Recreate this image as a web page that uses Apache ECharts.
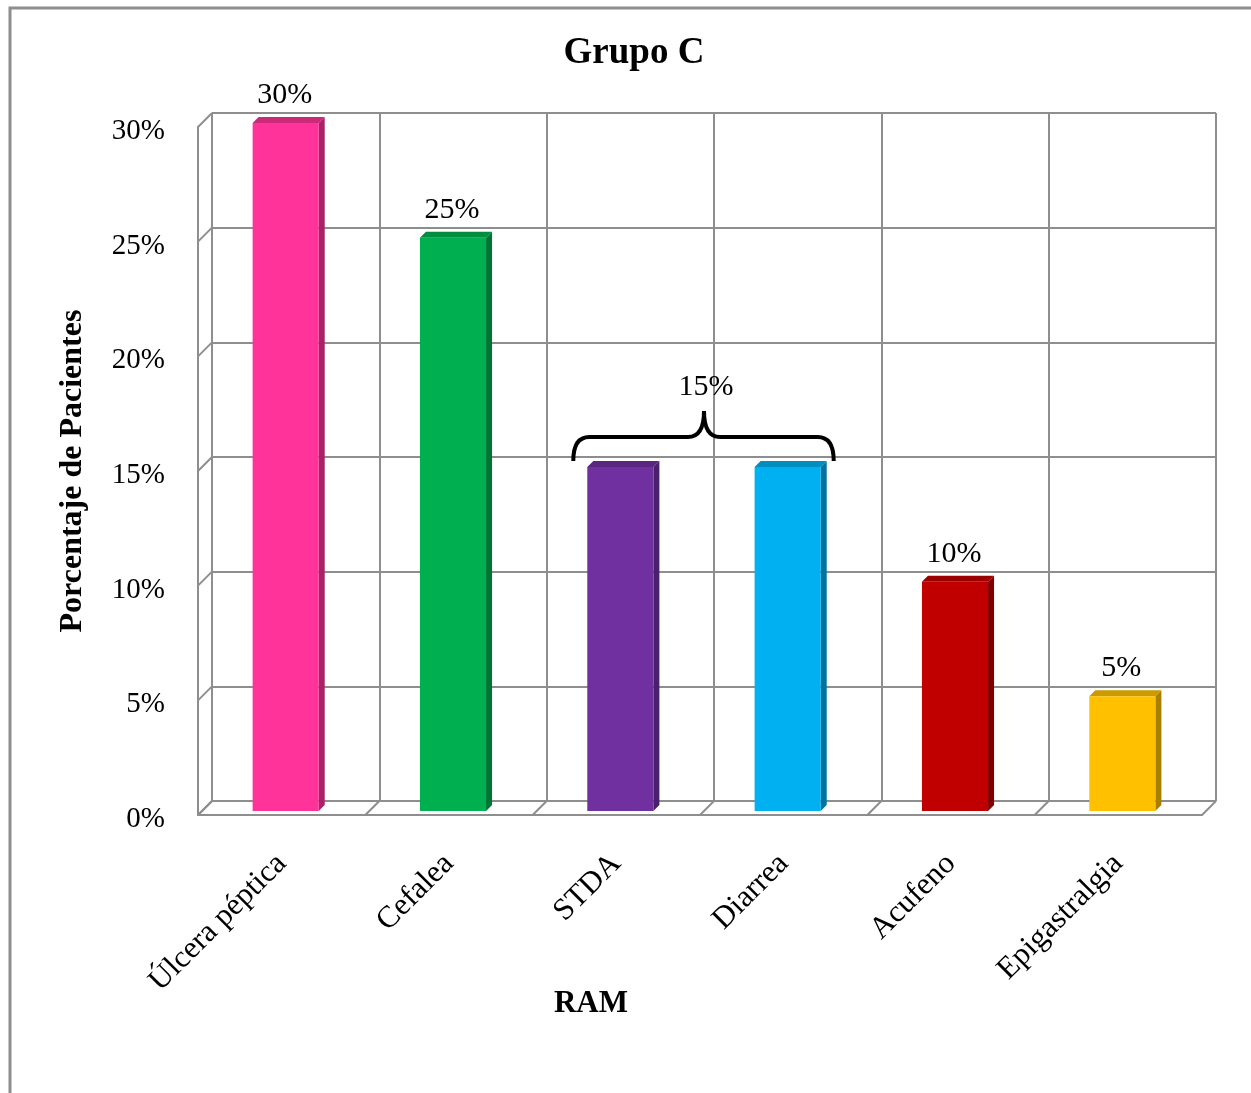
<!DOCTYPE html>
<html>
<head>
<meta charset="utf-8">
<title>Grupo C</title>
<script src="https://cdn.jsdelivr.net/npm/echarts@6/dist/echarts.min.js"></script>
<style>
  html, body { margin: 0; padding: 0; background: #fff; }
  #chart { width: 1251px; height: 1093px; }
</style>
</head>
<body>
<div id="chart"></div>
<script>
const categories = ['Úlcera péptica', 'Cefalea', 'STDA', 'Diarrea', 'Acufeno', 'Epigastralgia'];
const percentages = [0.30, 0.25, 0.15, 0.15, 0.10, 0.05];
const barColors = ['#FF3399', '#00B050', '#7030A0', '#00B0F0', '#C00000', '#FFC000'];
const yTicks = [0, 0.05, 0.10, 0.15, 0.20, 0.25, 0.30];
// STDA and Diarrea share one label, drawn above a brace
const bracedCategories = [2, 3];
const bracedValue = 0.15;

const SERIF = "'Liberation Serif', 'Times New Roman', serif";
const GRID_COLOR = '#8E8E8E';
const WALL = 14;   // depth of the box
const FRONT = 10;  // bar front face offset
const DEPTH = 6;   // bar depth

function pct(v) { return Math.round(v * 100) + '%'; }

function shade(hex, k) {
  const n = parseInt(hex.slice(1), 16);
  const r = Math.round(((n >> 16) & 255) * k);
  const g = Math.round(((n >> 8) & 255) * k);
  const b = Math.round((n & 255) * k);
  return 'rgb(' + r + ',' + g + ',' + b + ')';
}

function renderBar(params, api) {
  const i = api.value(0), v = api.value(1);
  const top = api.coord([i, v]);
  const base = api.coord([i, 0]);
  const band = api.size([1, 0])[0];
  const w = band * 0.395;
  const cx = top[0] - FRONT;
  const x0 = cx - w / 2, x1 = cx + w / 2;
  const yt = top[1] + FRONT, yb = base[1] + FRONT;
  const color = barColors[i];
  const children = [
    { type: 'polygon', shape: { points: [[x1, yt], [x1 + DEPTH, yt - DEPTH], [x1 + DEPTH, yb - DEPTH], [x1, yb]] },
      style: { fill: shade(color, 0.66) } },
    { type: 'polygon', shape: { points: [[x0, yt], [x1, yt], [x1 + DEPTH, yt - DEPTH], [x0 + DEPTH, yt - DEPTH]] },
      style: { fill: shade(color, 0.8) } },
    { type: 'rect', shape: { x: x0, y: yt, width: w, height: yb - yt }, style: { fill: color } }
  ];
  if (bracedCategories.indexOf(i) < 0) {
    children.push({
      type: 'text',
      style: { x: cx - 1, y: yt - 28, text: pct(v), font: '30px ' + SERIF, fill: '#000',
               align: 'center', verticalAlign: 'middle' }
    });
  }
  return { type: 'group', children: children };
}

function renderBrace(params, api) {
  const a = api.coord([bracedCategories[0], bracedValue]);
  const b = api.coord([bracedCategories[1], bracedValue]);
  const band = api.size([1, 0])[0];
  const w = band * 0.395;
  const L = a[0] - FRONT - w / 2 - WALL;
  const R = b[0] - FRONT + w / 2 + 13;
  const m = (a[0] + b[0]) / 2 - FRONT;
  const yFront = a[1] + FRONT;
  const tip = yFront - 6, yh = yFront - 30, yp = yFront - 56, r = 16;
  const d = 'M' + L + ',' + tip + ' Q' + L + ',' + yh + ' ' + (L + r) + ',' + yh +
    ' L' + (m - r) + ',' + yh + ' Q' + m + ',' + yh + ' ' + m + ',' + yp +
    ' Q' + m + ',' + yh + ' ' + (m + r) + ',' + yh +
    ' L' + (R - r) + ',' + yh + ' Q' + R + ',' + yh + ' ' + R + ',' + tip;
  return {
    type: 'group',
    children: [
      { type: 'path', shape: { pathData: d }, style: { stroke: '#000', lineWidth: 4, fill: null } },
      { type: 'text', style: { x: m + 2, y: yFront - 80, text: pct(bracedValue), font: '30px ' + SERIF,
          fill: '#000', align: 'center', verticalAlign: 'middle' } }
    ]
  };
}

// left wall: diagonal at every tick
function renderWallEdge(params, api) {
  const p = api.coord([0, api.value(1)]);
  const band = api.size([1, 0])[0];
  const x = p[0] - band / 2;
  return { type: 'line', shape: { x1: x, y1: p[1], x2: x - WALL, y2: p[1] + WALL },
           style: { stroke: GRID_COLOR, lineWidth: 2 } };
}

// floor: diagonal at every category boundary
function renderFloorEdge(params, api) {
  const p = api.coord([0, 0]);
  const band = api.size([1, 0])[0];
  const x = p[0] - band / 2 + api.value(2) * band;
  return { type: 'line', shape: { x1: x, y1: p[1], x2: x - WALL, y2: p[1] + WALL },
           style: { stroke: GRID_COLOR, lineWidth: 2 } };
}

const boundaries = categories.map((c, i) => [0, 0, i]).concat([[0, 0, categories.length]]);
const yMin = yTicks[0], yMax = yTicks[yTicks.length - 1], yStep = yTicks[1] - yTicks[0];

const chart = echarts.init(document.getElementById('chart'), null, { renderer: 'canvas' });
chart.setOption({
  animation: false,
  backgroundColor: '#fff',
  grid: [
    { left: 212, top: 113, width: 1004, height: 688, outerBoundsMode: 'none' },
    { left: 198, top: 127, width: 1004, height: 688, outerBoundsMode: 'none' }
  ],
  xAxis: [
    { gridIndex: 0, type: 'category', data: categories,
      axisLine: { show: false }, axisTick: { show: false }, axisLabel: { show: false },
      splitLine: { show: true, lineStyle: { color: GRID_COLOR, width: 2 } } },
    { gridIndex: 1, type: 'category', data: categories,
      axisLine: { show: true, lineStyle: { color: GRID_COLOR, width: 2 } },
      axisTick: { show: false }, splitLine: { show: false },
      axisLabel: { rotate: 45, margin: 44, fontSize: 31, fontFamily: SERIF, color: '#000', interval: 0 } }
  ],
  yAxis: [
    { gridIndex: 0, type: 'value', min: yMin, max: yMax, interval: yStep,
      axisLine: { show: false }, axisTick: { show: false }, axisLabel: { show: false },
      splitLine: { show: true, lineStyle: { color: GRID_COLOR, width: 2 } } },
    { gridIndex: 1, type: 'value', min: yMin, max: yMax, interval: yStep,
      axisLine: { show: true, lineStyle: { color: GRID_COLOR, width: 2 } },
      axisTick: { show: false }, splitLine: { show: false },
      axisLabel: { margin: 33, color: '#000', formatter: v => '{t|' + pct(v) + '}',
                   rich: { t: { fontSize: 29, fontFamily: SERIF, color: '#000', padding: [9, 0, 0, 0] } } },
      name: 'Porcentaje de Pacientes', nameLocation: 'middle', nameGap: 109,
      nameTextStyle: { fontSize: 32, fontWeight: 'bold', fontFamily: SERIF, color: '#000' } }
  ],
  graphic: [
    { type: 'rect', shape: { x: 10, y: 8, width: 1400, height: 1200 }, silent: true, z: -10,
      style: { fill: null, stroke: GRID_COLOR, lineWidth: 3 } },
    { type: 'text', x: 634, y: 53, style: { text: 'Grupo C', font: 'bold 37px ' + SERIF, fill: '#000',
        align: 'center', verticalAlign: 'middle' } },
    { type: 'text', x: 591, y: 1004, style: { text: 'RAM', font: 'bold 31px ' + SERIF, fill: '#000',
        align: 'center', verticalAlign: 'middle' } }
  ],
  series: [
    { type: 'custom', xAxisIndex: 0, yAxisIndex: 0, renderItem: renderWallEdge, clip: false,
      data: yTicks.map(v => [0, v]), encode: { x: 0, y: 1 }, silent: true },
    { type: 'custom', xAxisIndex: 0, yAxisIndex: 0, renderItem: renderFloorEdge, clip: false,
      data: boundaries, encode: { x: 0, y: 1 }, silent: true },
    { type: 'custom', xAxisIndex: 0, yAxisIndex: 0, renderItem: renderBar, clip: false,
      data: categories.map((c, i) => [i, percentages[i]]), encode: { x: 0, y: 1 } },
    { type: 'custom', xAxisIndex: 0, yAxisIndex: 0, renderItem: renderBrace, clip: false,
      data: [[bracedCategories[0], bracedValue]], encode: { x: 0, y: 1 }, silent: true }
  ]
});
</script>
</body>
</html>
